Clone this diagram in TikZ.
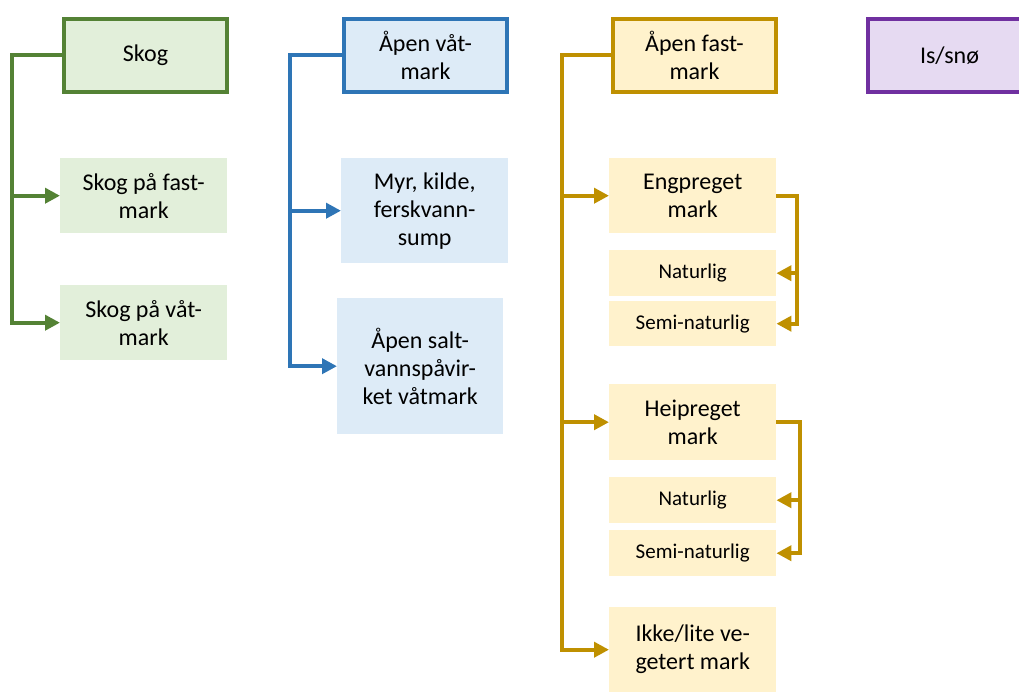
\documentclass[tikz,border=0pt]{standalone}
\usepackage{fontspec}
\setmainfont{Carlito}
\usetikzlibrary{positioning, arrows.meta}

\definecolor{skogkant}{HTML}{548235}
\definecolor{skogfyll}{HTML}{E2EFDA}
\definecolor{vaatkant}{HTML}{2E75B6}
\definecolor{vaatfyll}{HTML}{DDEBF7}
\definecolor{fastkant}{HTML}{BF9000}
\definecolor{fastfyll}{HTML}{FFF2CC}
\definecolor{iskant}{HTML}{7030A0}
\definecolor{isfyll}{HTML}{E6DAF2}

\begin{document}
\begin{tikzpicture}[x=1pt, y=-1pt,
    hoved/.style={draw, line width=4pt, anchor=north west, minimum width=163pt,
      minimum height=73pt, inner sep=0pt, align=center,
      font=\fontsize{24}{28}\selectfont},
    under/.style={anchor=north west, minimum width=167pt, inner sep=0pt,
      align=center, font=\fontsize{24}{28}\selectfont},
    liten/.style={under, font=\fontsize{21}{25}\selectfont},
    pil/.style={line width=4pt, -{Triangle[length=15pt,width=15pt]}}
  ]
        \useasboundingbox (0,0) rectangle (1019,693);
        \clip (0,0) rectangle (1019,693);

        % Skog
        \node[hoved, draw=skogkant, fill=skogfyll] (skog) at (62,17) {Skog};
        \node[under, fill=skogfyll, minimum height=75pt] (skogfast) at (60,158) {Skog på fast-\\mark};
        \node[under, fill=skogfyll, minimum height=75pt] (skogvaat) at (60,285) {Skog på våt-\\mark};

        \draw[pil, skogkant] (skog.west) -- ++(-50,0) |- (skogfast.west);
        \draw[pil, skogkant] (skog.west) -- ++(-50,0) |- (skogvaat.west);

        % Åpen våtmark
        \node[hoved, draw=vaatkant, fill=vaatfyll] (vaat) at (342,17) {Åpen våt-\\mark};
        \node[under, fill=vaatfyll, minimum height=105pt] (myr) at (341,158) {Myr, kilde,\\ferskvann-\\sump};
        \node[under, fill=vaatfyll, minimum width=166pt, minimum height=136pt] (salt) at (337,298) {Åpen salt-\\vannspåvir-\\ket våtmark};

        \draw[pil, vaatkant] (vaat.west) -- ++(-52,0) |- (myr.west);
        \draw[pil, vaatkant] (vaat.west) -- ++(-52,0) |- (salt.west);

        % Åpen fastmark
        \node[hoved, draw=fastkant, fill=fastfyll] (fast) at (611,17) {Åpen fast-\\mark};
        \node[under, fill=fastfyll, minimum height=75pt] (eng) at (609,158) {Engpreget\\mark};
        \node[liten, fill=fastfyll, minimum height=46pt] (engnat) at (609,250) {Naturlig};
        \node[liten, fill=fastfyll, minimum height=45pt] (engsemi) at (609,301) {Semi-naturlig};
        \node[under, fill=fastfyll, minimum height=76pt] (hei) at (609,384) {Heipreget\\mark};
        \node[liten, fill=fastfyll, minimum height=46pt] (heinat) at (609,477) {Naturlig};
        \node[liten, fill=fastfyll, minimum height=46pt] (heisemi) at (609,530) {Semi-naturlig};
        \node[under, fill=fastfyll, minimum height=85pt] (ikke) at (609,607) {Ikke/lite ve-\\getert mark};

        \draw[pil, fastkant] (fast.west) -- ++(-49,0) |- (eng.west);
        \draw[pil, fastkant] (fast.west) -- ++(-49,0) |- (hei.west);
        \draw[pil, fastkant] (fast.west) -- ++(-49,0) |- (ikke.west);

        \draw[pil, fastkant] (eng.east) -- ++(21,0) |- (engnat.east);
        \draw[pil, fastkant] (eng.east) -- ++(21,0) |- (engsemi.east);
        \draw[pil, fastkant] (hei.east) -- ++(24,0) |- (heinat.east);
        \draw[pil, fastkant] (hei.east) -- ++(24,0) |- (heisemi.east);

        % Is/snø
        \node[hoved, draw=iskant, fill=isfyll] (is) at (866,17) {Is/snø};
\end{tikzpicture}
\end{document}
